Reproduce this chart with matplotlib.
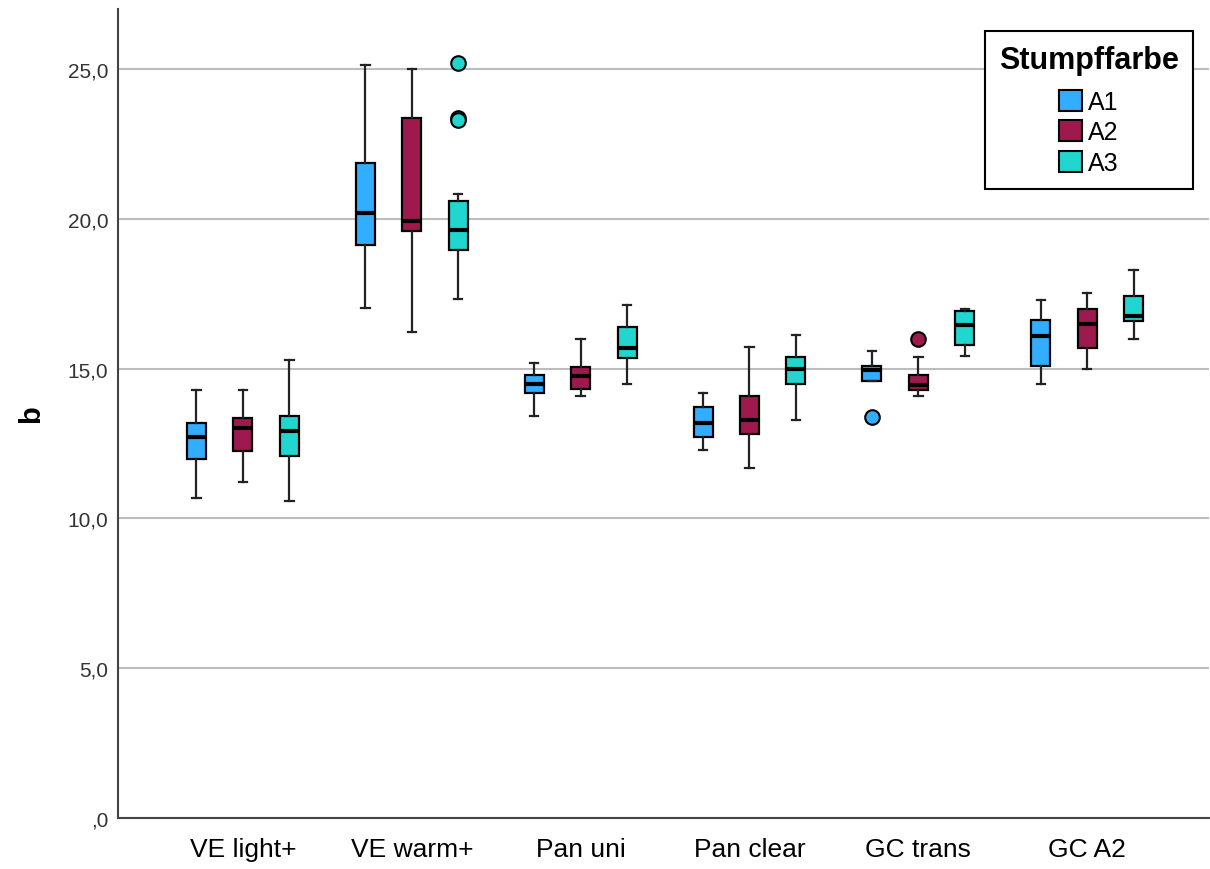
import numpy as np
import matplotlib.pyplot as plt
from matplotlib.patches import Patch

plt.rcParams['font.family'] = ['Liberation Sans', 'DejaVu Sans']

groups = ["VE light+", "VE warm+", "Pan uni", "Pan clear", "GC trans", "GC A2"]
series = ["A1", "A2", "A3"]
colors = ["#33adff", "#9e1a4e", "#22d6d0"]

# per series: one value per group
whislo = {
    "A1": [10.69, 17.01, 13.41, 12.28, 14.58, 14.50],
    "A2": [11.20, 16.21, 14.10, 11.68, 14.10, 15.00],
    "A3": [10.58, 17.32, 14.50, 13.30, 15.41, 16.00],
}
q1 = {
    "A1": [11.99, 19.11, 14.19, 12.72, 14.58, 15.10],
    "A2": [12.24, 19.60, 14.31, 12.80, 14.30, 15.70],
    "A3": [12.08, 18.96, 15.34, 14.50, 15.78, 16.60],
}
med = {
    "A1": [12.71, 20.20, 14.47, 13.20, 14.94, 16.09],
    "A2": [13.02, 19.92, 14.76, 13.30, 14.44, 16.50],
    "A3": [12.90, 19.63, 15.70, 14.99, 16.45, 16.76],
}
q3 = {
    "A1": [13.19, 21.86, 14.80, 13.73, 15.10, 16.61],
    "A2": [13.36, 23.37, 15.04, 14.09, 14.80, 17.00],
    "A3": [13.41, 20.60, 16.40, 15.38, 16.91, 17.41],
}
whishi = {
    "A1": [14.30, 25.12, 15.20, 14.20, 15.60, 17.30],
    "A2": [14.30, 25.00, 16.00, 15.71, 15.40, 17.51],
    "A3": [15.29, 20.81, 17.11, 16.11, 17.00, 18.30],
}
outliers = {
    "A1": [[], [], [], [], [13.40], []],
    "A2": [[], [], [], [], [16.00], []],
    "A3": [[], [25.21, 23.37, 23.30], [], [], [], []],
}

y_ticks = [0, 5, 10, 15, 20, 25]
y_tick_labels = [",0", "5,0", "10,0", "15,0", "20,0", "25,0"]

fig = plt.figure(figsize=(12.1, 8.7), dpi=100)
ax = fig.add_axes([0.0975, 0.0586, 0.9015, 0.9299])

offsets = [-0.275, 0.0, 0.275]
box_w = 0.113
x = np.arange(len(groups))

for s, name in enumerate(series):
    stats = []
    for g in range(len(groups)):
        stats.append(dict(whislo=whislo[name][g], q1=q1[name][g], med=med[name][g],
                          q3=q3[name][g], whishi=whishi[name][g],
                          fliers=outliers[name][g]))
    ax.bxp(stats, positions=x + offsets[s], widths=box_w, capwidths=0.05,
           patch_artist=True, manage_ticks=False, zorder=3,
           boxprops=dict(facecolor=colors[s], edgecolor="black", linewidth=1.6),
           medianprops=dict(color="black", linewidth=3),
           whiskerprops=dict(color="#222222", linewidth=1.6),
           capprops=dict(color="#222222", linewidth=1.6),
           flierprops=dict(marker="o", markersize=10.5, markerfacecolor=colors[s],
                           markeredgecolor="black", markeredgewidth=1.5))

ax.set_xlim(-0.74, 5.72)
ax.set_ylim(0, 27)
ax.set_xticks(x)
ax.set_xticklabels(groups, fontsize=19)
ax.set_yticks(y_ticks)
ax.set_yticklabels(y_tick_labels, fontsize=15, color="#333333")
ax.tick_params(axis="y", length=0, pad=7)
ax.tick_params(axis="x", length=0, pad=14)
ax.yaxis.grid(True, color="#bdbdbd", linewidth=1.5, zorder=0)
ax.set_axisbelow(True)

for side in ["top", "right"]:
    ax.spines[side].set_visible(False)
for side in ["left", "bottom"]:
    ax.spines[side].set_color("#444444")
    ax.spines[side].set_linewidth(1.5)

ax.set_ylabel("b", fontsize=21, fontweight="bold", labelpad=16)

handles = [Patch(facecolor=c, edgecolor="black", linewidth=1.5) for c in colors]
leg = ax.legend(handles, series, title="Stumpffarbe", loc="upper right",
                bbox_to_anchor=(0.9853, 0.973), borderaxespad=0, fontsize=18,
                fancybox=False, edgecolor="black", framealpha=1,
                handlelength=0.92, handleheight=0.92, handletextpad=0.25,
                labelspacing=0.25, borderpad=0.55)
leg.get_title().set_fontsize(22)
leg.get_title().set_fontweight("bold")
leg.get_frame().set_linewidth(1.5)
leg._legend_box.sep = 11

fig.savefig("out.png", dpi=100)
